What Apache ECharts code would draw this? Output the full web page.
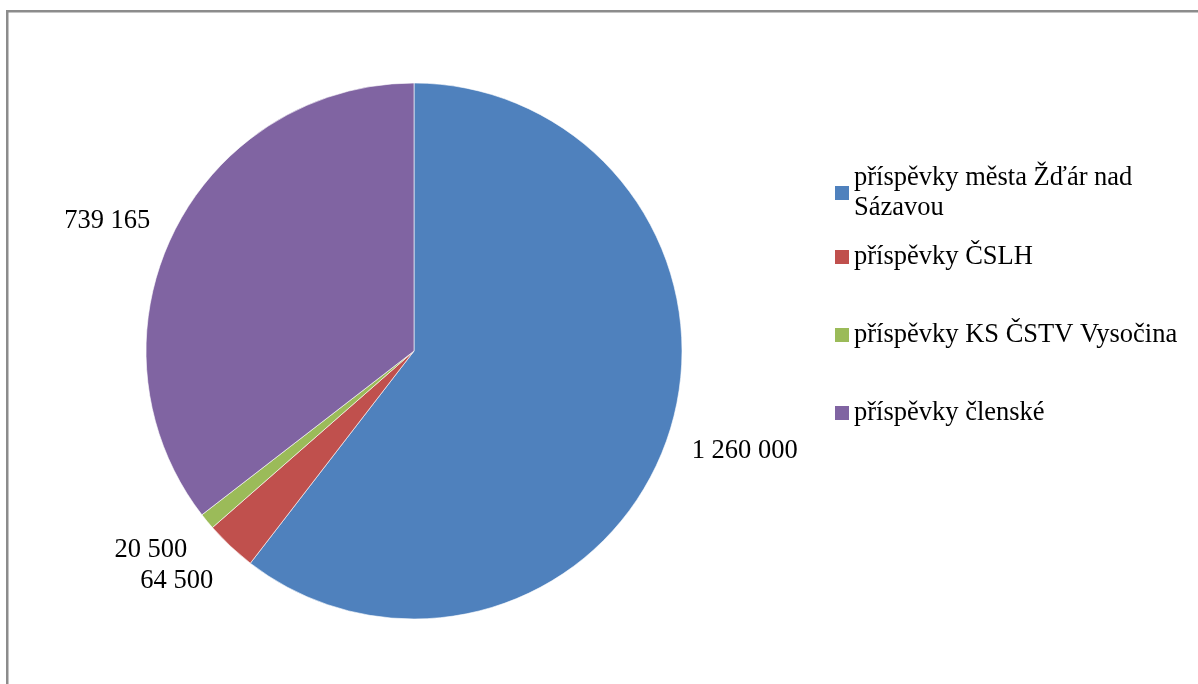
<!DOCTYPE html>
<html>
<head>
<meta charset="utf-8">
<script src="https://cdn.jsdelivr.net/npm/echarts@6/dist/echarts.min.js"></script>
<style>
html,body{margin:0;padding:0;background:#fff;}
#c{width:1198px;height:684px;}
</style>
</head>
<body>
<div id="c"></div>
<script>
const categories = ['příspěvky města Žďár nad\nSázavou', 'příspěvky ČSLH', 'příspěvky KS ČSTV Vysočina', 'příspěvky členské'];
const values = [1260000, 64500, 20500, 739165];
const colors = ['#4F81BD', '#C0504D', '#9BBB59', '#8064A2'];

const fontFam = '"Liberation Serif", "Times New Roman", serif';
function fmt(v){ return String(v).replace(/\B(?=(\d{3})+(?!\d))/g, ' '); }

const legendTopsLayout = [148, 242, 320, 398];
const labelShift = [[-4, 8], [6, 19], [5, 17], [4, -4]];

const chart = echarts.init(document.getElementById('c'));
const legends = categories.map((name, i) => ({
  orient: 'vertical',
  left: 835,
  top: legendTopsLayout[i],
  padding: 0,
  data: [name],
  icon: 'rect',
  itemWidth: 14,
  itemHeight: 14,
  itemStyle: { borderWidth: 0 },
  selectedMode: false,
  textStyle: Object.assign({
    fontFamily: fontFam,
    fontSize: 26.5,
    color: '#000',
    lineHeight: 30
  }, i === 0 ? { padding: [30, 0, 0, 0] } : {})
}));

chart.setOption({
  animation: false,
  color: colors,
  legend: legends,
  graphic: [
    { type: 'rect', shape: { x: 6, y: 10, width: 1192, height: 2.5 }, style: { fill: '#8c8c8c' }, silent: true },
    { type: 'rect', shape: { x: 6, y: 10, width: 2.5, height: 674 }, style: { fill: '#8c8c8c' }, silent: true }
  ],
  series: [{
    type: 'pie',
    center: [414, 351],
    radius: 268,
    startAngle: 90,
    clockwise: true,
    avoidLabelOverlap: true,
    itemStyle: { borderColor: '#fff', borderWidth: 0.6 },
    label: {
      show: true,
      position: 'outside',
      fontFamily: fontFam,
      fontSize: 26.5,
      color: '#000',
      formatter: p => fmt(p.value)
    },
    labelLine: { show: false, length: 18, length2: 6 },
    labelLayout: p => ({ dx: labelShift[p.dataIndex][0], dy: labelShift[p.dataIndex][1] }),
    emphasis: { disabled: true },
    data: categories.map((c, i) => ({ name: c, value: values[i] }))
  }]
});
</script>
</body>
</html>
